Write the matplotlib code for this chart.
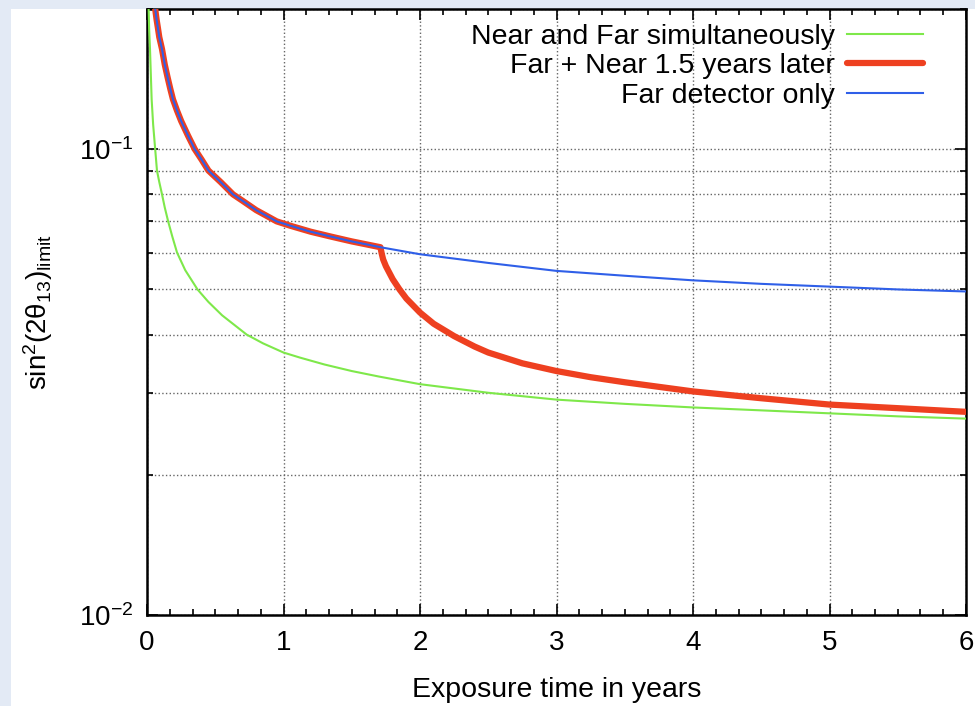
import numpy as np
import matplotlib
matplotlib.use('Agg')
import matplotlib.pyplot as plt
from matplotlib.patches import Rectangle
from matplotlib.ticker import LogLocator, MultipleLocator, NullFormatter

plt.rcParams['font.family'] = ['Liberation Sans', 'DejaVu Sans']
plt.rcParams['mathtext.fontset'] = 'custom'
plt.rcParams['mathtext.rm'] = 'Liberation Sans'
plt.rcParams['mathtext.it'] = 'Liberation Sans:italic'
plt.rcParams['axes.unicode_minus'] = False

# Far detector only (also the first part of the delayed-near curve)
far_t = [0.06, 0.07, 0.08, 0.09, 0.11, 0.13, 0.15, 0.17, 0.19, 0.22, 0.25, 0.3, 0.35, 0.4,
         0.45, 0.54, 0.63, 0.7, 0.8, 0.95, 1.05, 1.2, 1.35, 1.5, 1.71,
         2.0, 2.5, 3.0, 3.5, 4.0, 4.5, 5.0, 5.5, 6.0]
far_v = [0.200, 0.190, 0.182, 0.174, 0.164, 0.152, 0.143, 0.135, 0.128, 0.121, 0.115, 0.107, 0.100, 0.095,
         0.090, 0.085, 0.080, 0.0775, 0.074, 0.070, 0.0685, 0.0665, 0.0649, 0.0634, 0.0616,
         0.0595, 0.0570, 0.0548, 0.0535, 0.0523, 0.0514, 0.0507, 0.0500, 0.0495]

# Near detector added 1.5 years later (after the split point)
late_t = [1.71, 1.72, 1.73, 1.75, 1.8, 1.85, 1.9, 2.0, 2.1, 2.25, 2.4, 2.5, 2.75, 3.0,
          3.25, 3.5, 4.0, 4.5, 5.0, 5.5, 6.0]
late_v = [0.0616, 0.0596, 0.0580, 0.0561, 0.0526, 0.0500, 0.0478, 0.0446, 0.0422, 0.0397, 0.0377,
          0.0366, 0.0347, 0.0334, 0.0324, 0.0316, 0.0302, 0.0292, 0.0283, 0.0278, 0.0273]

# Near and Far simultaneously
both_t = [0.012, 0.016, 0.022, 0.028, 0.034, 0.045, 0.06, 0.073, 0.09, 0.11, 0.13, 0.155, 0.185,
          0.22, 0.28, 0.37, 0.45, 0.55, 0.73, 0.85, 1.0, 1.12, 1.3,
          1.5, 1.7, 2.0, 2.5, 3.0, 3.5, 4.0, 4.5, 5.0, 5.5, 6.0]
both_v = [0.200, 0.180, 0.164, 0.145, 0.128, 0.113, 0.100, 0.090, 0.085, 0.080, 0.075, 0.070, 0.065,
          0.060, 0.055, 0.050, 0.047, 0.044, 0.040, 0.0383, 0.0366, 0.0357, 0.0345,
          0.0334, 0.0325, 0.0313, 0.0300, 0.0290, 0.0284, 0.0279, 0.0275, 0.0271, 0.0267, 0.0264]

green = '#7ee84a'
red = '#ee4020'
blue = '#2f5fe8'

fig = plt.figure(figsize=(9.75, 7.06), dpi=100)
fig.patch.set_facecolor('#e3eaf5')
fig.patches.append(Rectangle((11 / 975, 0), 1, 1 - 9 / 706, transform=fig.transFigure,
                             facecolor='white', edgecolor='none', zorder=-10))

ax = fig.add_axes([147 / 975, 91 / 706, 819 / 975, 606 / 706])
ax.set_zorder(1)

red_t = [t for t in far_t if t < 1.71] + late_t
red_v = [v for t, v in zip(far_t, far_v) if t < 1.71] + late_v

ax.plot(both_t, both_v, color=green, lw=1.5, label='Near and Far simultaneously', zorder=3)
ax.plot(red_t, red_v, color=red, lw=4.5, label='Far + Near 1.5 years later', zorder=4,
        solid_capstyle='round', solid_joinstyle='round')
ax.plot(far_t, far_v, color=blue, lw=1.5, label='Far detector only', zorder=5)

ax.set_yscale('log')
ax.set_xlim(0, 6)
ax.set_ylim(0.01, 0.2)

ax.xaxis.set_major_locator(MultipleLocator(1))
ax.xaxis.set_minor_locator(MultipleLocator(1 / 6))
ax.yaxis.set_major_locator(LogLocator(base=10, numticks=5))
ax.yaxis.set_minor_locator(LogLocator(base=10, subs=np.arange(2, 10), numticks=10))
ax.yaxis.set_minor_formatter(NullFormatter())

ax.tick_params(which='both', direction='in', top=True, right=True, width=1.2)
ax.tick_params(which='major', length=8, labelsize=20)
ax.tick_params(which='minor', length=4)
ax.tick_params(axis='x', pad=11)
ax.tick_params(axis='y', pad=10)

ax.grid(True, which='major', axis='x', linestyle=':', color='#666666', lw=1)
ax.grid(True, which='both', axis='y', linestyle=':', color='#666666', lw=1)

for s in ax.spines.values():
    s.set_linewidth(1.8)

ax.set_xlabel('Exposure time in years', fontsize=20.5, labelpad=15)
ax.set_ylabel(r'sin$^\mathregular{2}$(2θ$_\mathregular{13}$)$_\mathregular{limit}$', fontsize=20)
ax.yaxis.set_label_coords(-0.112, 0.5)

ax.legend(loc='upper right', bbox_to_anchor=(0.955, 0.985), frameon=False, fontsize=20.5,
          markerfirst=False, handlelength=2.7, labelspacing=0.125, handletextpad=0.4,
          borderaxespad=0, borderpad=0.2)

fig.savefig('out.png', dpi=100, facecolor=fig.get_facecolor())
